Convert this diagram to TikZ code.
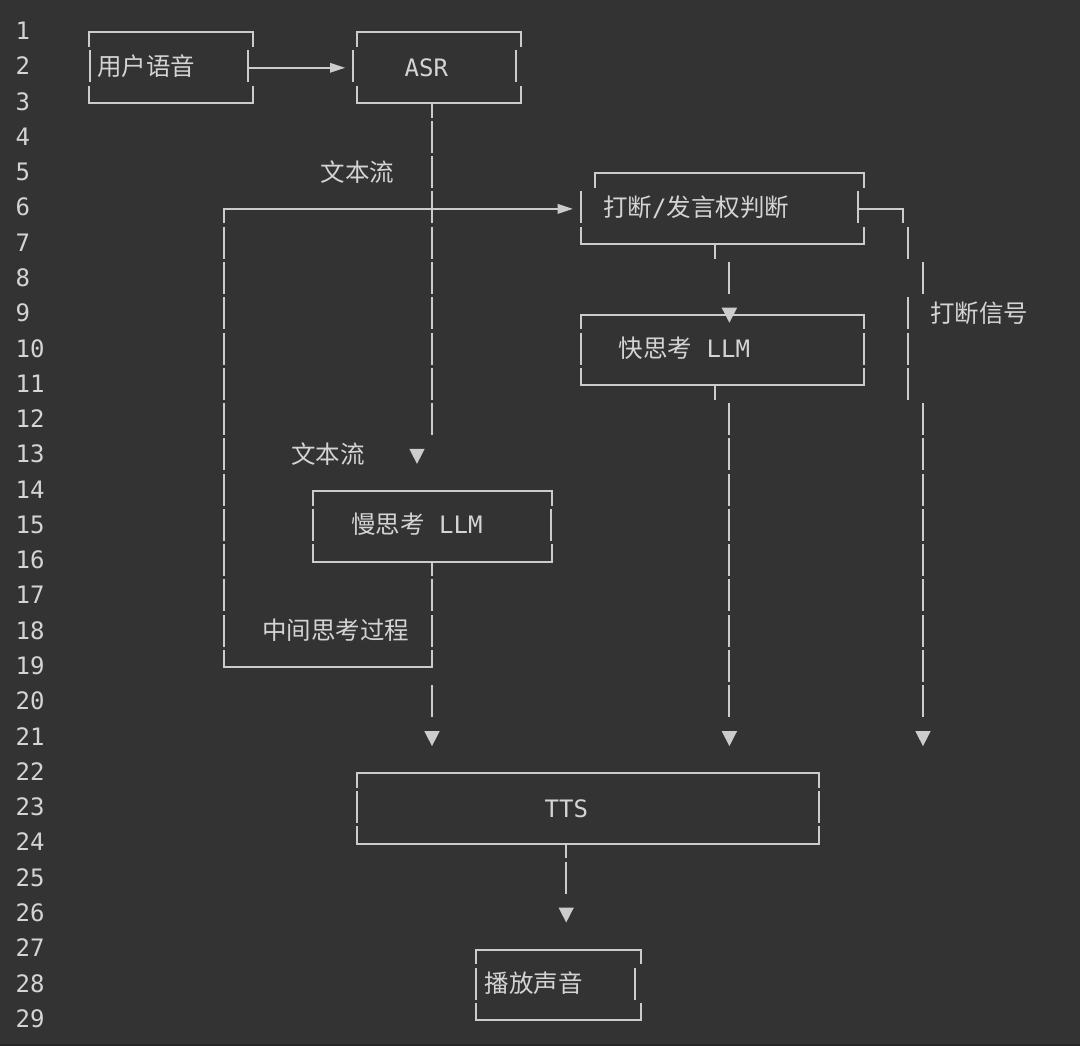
\documentclass[tikz,border=0pt]{standalone}
\usepackage{fontspec}
\newfontfamily\cjk{Noto Sans CJK SC}
\newfontfamily\mono{DejaVu Sans Mono}
\definecolor{bg}{HTML}{333333}
\definecolor{botc}{HTML}{282828}
\definecolor{fg}{HTML}{CCCCCC}
\definecolor{tx}{HTML}{D4D4D4}
\newcommand\RowY[1]{(31+(#1-1)*35.28)}
\newcommand\Vbar[2]{\draw[ln] (#1,{\RowY{#2}-16}) -- (#1,{\RowY{#2}+16});}
\newcommand\Vstub[2]{\draw[ln] (#1,{\RowY{#2}+1.3}) -- (#1,{\RowY{#2}+16});}
\newcommand\TopB[3]{\draw[ln] (#1,{\RowY{#3}+16}) -- (#1,{\RowY{#3}+1.3}) -- (#2,{\RowY{#3}+1.3}) -- (#2,{\RowY{#3}+16});}
\newcommand\BotB[3]{\draw[ln] (#1,{\RowY{#3}-16}) -- (#1,{\RowY{#3}+1.3}) -- (#2,{\RowY{#3}+1.3}) -- (#2,{\RowY{#3}-16});}
\newcommand\DownTri[2]{\fill[fg] ({#1-7.7},{\RowY{#2}-5.5}) -- ({#1+7.7},{\RowY{#2}-5.5}) -- (#1,{\RowY{#2}+9.5}) -- cycle;}
\newcommand\RightTri[2]{\fill[fg] ({#1-15},{\RowY{#2}-3.5}) -- ({#1-15},{\RowY{#2}+6.5}) -- (#1,{\RowY{#2}+1.5}) -- cycle;}
\begin{document}
\begin{tikzpicture}[x=1pt,y=-1pt,
  ln/.style={draw=fg,line width=2pt,line join=miter},
  cj/.style={text=tx,inner sep=0pt,anchor=base west,font=\cjk\fontsize{24.5}{24.5}\selectfont},
  mn/.style={text=tx,inner sep=0pt,anchor=base west,font=\mono\fontsize{24}{24}\selectfont},
  num/.style={text=tx,inner sep=0pt,anchor=base west,font=\mono\fontsize{24}{24}\selectfont}]
\useasboundingbox (0,0) rectangle (1080,1046);
\fill[bg] (0,0) rectangle (1080,1046);
\fill[botc] (0,1044) rectangle (1080,1046);
% line numbers
\foreach \k in {1,...,29} {\node[num] (n\k) at (15.5,{\RowY{\k}+8.5}) {\k};}
% box: user speech
\TopB{89}{253}{1}
\Vbar{89.5}{2} \Vbar{248}{2}
\BotB{89}{253}{3}
\draw[ln] (248,{\RowY{2}+1.3}) -- (331,{\RowY{2}+1.3});
\RightTri{345}{2}
% box: ASR
\TopB{357}{521}{1}
\Vbar{352.5}{2} \Vbar{516}{2}
\BotB{357}{521}{3}
\Vstub{432}{3}
\foreach \k in {4,...,12} {\Vbar{432}{\k}}
\DownTri{417}{13}
% feedback loop (row 6 / left column / row 19)
\draw[ln] (224,{\RowY{6}+16}) -- (224,{\RowY{6}+1.3}) -- (558,{\RowY{6}+1.3});
\RightTri{572.7}{6}
\foreach \k in {7,...,18} {\Vbar{224}{\k}}
\BotB{224}{432}{19}
% box: judge
\TopB{595}{863.7}{5}
\Vbar{580.6}{6} \Vbar{857.5}{6}
\draw[ln] (857.5,{\RowY{6}+1.3}) -- (902.6,{\RowY{6}+1.3}) -- (902.6,{\RowY{6}+16});
\BotB{580.6}{863.7}{7}
\Vstub{714.6}{7}
\Vbar{729.4}{8}
% interrupt signal line
\foreach \k in {7,9,10,11} {\Vbar{907.8}{\k}}
\Vbar{923}{8}
\foreach \k in {12,...,20} {\Vbar{923}{\k}}
\DownTri{923}{21}
% box: fast LLM
\TopB{580.6}{863.7}{9}
\DownTri{729.4}{9}
\Vbar{580.6}{10} \Vbar{863.7}{10}
\BotB{580.6}{863.7}{11}
\Vstub{714.6}{11}
\foreach \k in {12,...,20} {\Vbar{729.4}{\k}}
\DownTri{729.4}{21}
% box: slow LLM
\TopB{312.7}{551.7}{14}
\Vbar{312.7}{15} \Vbar{550.7}{15}
\BotB{312.7}{551.7}{16}
\Vstub{432}{16}
\Vbar{432}{17} \Vbar{432}{18}
\Vbar{432}{20}
\DownTri{432}{21}
% box: TTS
\TopB{356.6}{819.2}{22}
\Vbar{357.4}{23} \Vbar{818.5}{23}
\BotB{356.6}{819.2}{24}
\Vstub{566.2}{24}
\Vbar{566.2}{25}
\DownTri{566.2}{26}
% box: play
\TopB{476.4}{640.5}{27}
\Vbar{476.4}{28} \Vbar{634.6}{28}
\BotB{476.4}{640.5}{29}
% texts
\node[cj] (user) at (97,{\RowY{2}+9}) {用户语音};
\node[mn] (asr) at (404.5,{\RowY{2}+10}) {ASR};
\node[cj] (txt1) at (320.5,{\RowY{5}+9}) {文本流};
\node[cj] (judge) at (603,{\RowY{6}+9}) {打断{\mono\fontsize{24}{24}\selectfont/}发言权判断};
\node[cj] (sig) at (930,{\RowY{9}+9}) {打断信号};
\node[cj] (fast) at (618.5,{\RowY{10}+9}) {快思考{\mono\fontsize{24}{24}\selectfont\ LLM}};
\node[cj] (txt2) at (291,{\RowY{13}+9}) {文本流};
\node[cj] (slow) at (351,{\RowY{15}+9}) {慢思考{\mono\fontsize{24}{24}\selectfont\ LLM}};
\node[cj] (mid) at (262,{\RowY{18}+9}) {中间思考过程};
\node[mn] (tts) at (544.5,{\RowY{23}+10}) {TTS};
\node[cj] (play) at (484.5,{\RowY{28}+9}) {播放声音};
\end{tikzpicture}
\end{document}
